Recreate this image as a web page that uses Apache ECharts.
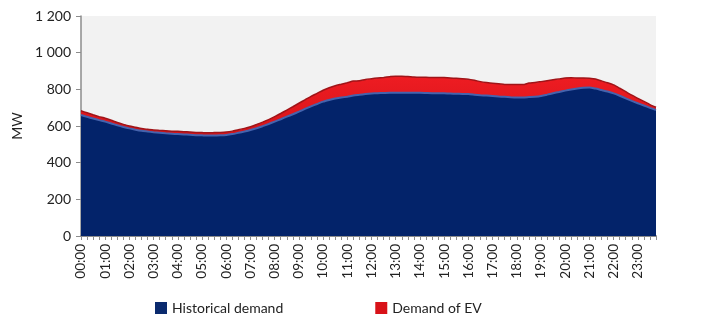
<!DOCTYPE html>
<html>
<head>
<meta charset="utf-8">
<script src="https://cdn.jsdelivr.net/npm/echarts@6/dist/echarts.min.js"></script>
<style>
  html, body { margin: 0; padding: 0; background: #ffffff; }
  #chart { width: 706px; height: 325px; }
</style>
</head>
<body>
<div id="chart"></div>
<script>
// Quarter-hour time slots across one day
const timeSlots = [];
for (let h = 0; h < 24; h++) {
  for (let q = 0; q < 4; q++) {
    timeSlots.push(String(h).padStart(2, '0') + ':' + String(q * 15).padStart(2, '0'));
  }
}

const seriesNames = ['Historical demand', 'Demand of EV'];

// Base load (MW) per 15-minute slot
const historicalDemand = [
  660, 650, 641, 632, 624, 614, 604, 595, 587, 580, 574, 570,
  566, 563, 560, 558, 556, 554, 552, 550, 549, 548, 548, 549,
  551, 556, 563, 570, 578, 588, 599, 611, 624, 637, 651, 664,
  678, 693, 707, 720, 733, 742, 750, 755, 760, 766, 770, 774,
  777, 779, 780, 781, 781, 782, 782, 781, 781, 780, 779, 779,
  778, 777, 776, 775, 774, 771, 768, 766, 764, 761, 759, 757,
  756, 756, 758, 760, 764, 771, 779, 786, 793, 799, 804, 808,
  810, 804, 796, 788, 778, 765, 751, 737, 724, 712, 699, 687
];

// Additional electric-vehicle charging load (MW) per 15-minute slot
const evDemand = [
  23, 22, 20, 19, 18, 17, 15, 14, 13, 13, 12, 12,
  12, 13, 14, 14, 15, 15, 15, 15, 15, 15, 16, 16,
  16, 16, 17, 17, 18, 20, 22, 24, 27, 31, 36, 41,
  46, 50, 55, 58, 62, 67, 70, 73, 76, 79, 77, 80,
  81, 83, 85, 88, 91, 90, 88, 86, 85, 86, 85, 86,
  86, 85, 84, 83, 81, 78, 74, 71, 69, 70, 68, 70,
  71, 70, 76, 77, 78, 76, 73, 71, 69, 64, 58, 54,
  50, 52, 50, 48, 46, 41, 36, 31, 27, 22, 18, 15
];

const axisFont = 'Lato, "Open Sans", sans-serif';

const chart = echarts.init(document.getElementById('chart'), null, { renderer: 'canvas' });

chart.setOption({
  animation: false,
  backgroundColor: '#ffffff',
  grid: {
    left: 81, right: 50, top: 16, bottom: 89,
    show: true, backgroundColor: '#f2f2f2', borderWidth: 0
  },
  legend: {
    data: seriesNames,
    left: 150, top: 296,
    itemWidth: 12, itemHeight: 12, itemGap: 92,
    icon: 'rect',
    textStyle: { fontFamily: axisFont, fontSize: 14, color: '#222222' }
  },
  xAxis: {
    type: 'category',
    data: timeSlots,
    boundaryGap: false,
    axisLine: { lineStyle: { color: '#8c8c8c', width: 2 } },
    axisTick: { interval: 0, length: 4, lineStyle: { color: '#8c8c8c' } },
    axisLabel: {
      interval: 3, rotate: 90, margin: 8,
      fontFamily: axisFont, fontSize: 13.5, color: '#222222'
    },
    splitLine: { show: false }
  },
  yAxis: {
    type: 'value',
    min: 0, max: 1200, interval: 200,
    name: 'MW',
    nameLocation: 'middle', nameRotate: 90, nameGap: 50,
    nameTextStyle: { fontFamily: axisFont, fontSize: 14, color: '#222222' },
    axisLine: { show: true, lineStyle: { color: '#8c8c8c', width: 1.5 } },
    axisTick: { show: true, length: 5, lineStyle: { color: '#8c8c8c' } },
    axisLabel: {
      margin: 10, fontFamily: axisFont, fontSize: 14, color: '#222222',
      formatter: v => String(v).replace(/\B(?=(\d{3})+(?!\d))/g, ' ')
    },
    splitLine: { show: false }
  },
  series: [
    {
      name: seriesNames[0],
      type: 'line',
      stack: 'total',
      data: historicalDemand,
      showSymbol: false,
      smooth: 0.2,
      itemStyle: { color: '#0a2a6e' },
      lineStyle: { color: '#4563ad', width: 2 },
      areaStyle: { color: '#03236a', opacity: 1 },
      z: 2
    },
    {
      name: seriesNames[1],
      type: 'line',
      stack: 'total',
      data: evDemand,
      showSymbol: false,
      smooth: 0.2,
      itemStyle: { color: '#d81218' },
      lineStyle: { color: '#a01418', width: 1.5 },
      areaStyle: {
        opacity: 1,
        color: new echarts.graphic.LinearGradient(0, 0, 0, 1, [
          { offset: 0, color: '#ee1c22' },
          { offset: 1, color: '#d5141a' }
        ])
      },
      z: 1
    }
  ]
});
</script>
</body>
</html>
